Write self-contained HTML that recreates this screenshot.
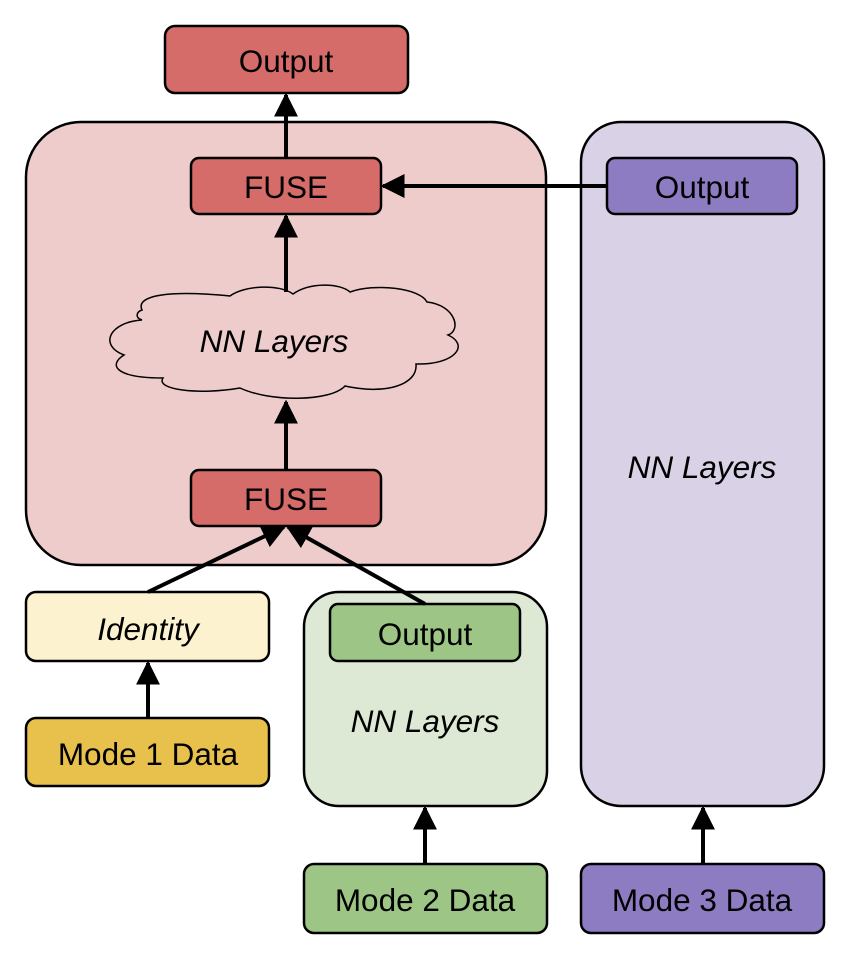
<!DOCTYPE html>
<html><head><style>
html,body{margin:0;padding:0;background:#fff;}
svg{display:block;}
text{font-family:"Liberation Sans",Arial,sans-serif;font-size:31.5px;fill:#000;}
.i{font-style:italic;}
</style></head><body>
<svg width="844" height="956" viewBox="0 0 844 956" xmlns="http://www.w3.org/2000/svg">
<defs>
<marker id="a" viewBox="0 0 10 10" refX="9" refY="5" markerWidth="6" markerHeight="6" markerUnits="strokeWidth" orient="auto">
<path d="M0,0 L10,5 L0,10 z" fill="#000"/>
</marker>
</defs>
<g stroke="#000" stroke-width="2.5">
<rect x="26" y="122" width="520" height="443" rx="55" fill="#EECCCB"/>
<rect x="581" y="122" width="243" height="684" rx="40" fill="#D9D2E6"/>
<rect x="304" y="592" width="243" height="214" rx="35" fill="#DDE8D5"/>
<rect x="165" y="26" width="243" height="67" rx="10" fill="#D56C69"/>
<rect x="191" y="158" width="190" height="56" rx="8" fill="#D56C69"/>
<rect x="191" y="470" width="190" height="56" rx="8" fill="#D56C69"/>
<rect x="607" y="158" width="190" height="56" rx="8" fill="#8E7CC3"/>
<rect x="330" y="604" width="190" height="57" rx="8" fill="#9CC586"/>
<rect x="26" y="592" width="243" height="69" rx="10" fill="#FCF2D0"/>
<rect x="26" y="718" width="243" height="68" rx="10" fill="#E8C14D"/>
<rect x="304" y="864" width="243" height="69" rx="10" fill="#9CC586"/>
<rect x="581" y="864" width="243" height="69" rx="10" fill="#8E7CC3"/>
<path d="M142,310 C135,295 170,290 230,296 C245,285 280,284 293,294 C310,282 340,283 350,292 C375,283 420,288 427,302 C455,305 462,330 448,335 C470,345 455,365 416,364 C418,385 385,395 345,386 C330,402 270,402 240,388 C200,395 155,390 163,378 C115,378 108,365 124,355 C98,345 110,322 142,320 C135,318 136,312 142,310 Z" fill="#EECCCB" stroke-width="1.5"/>
</g>
<g stroke="#000" stroke-width="4" fill="none" marker-end="url(#a)">
<line x1="286" y1="158" x2="286" y2="95"/>
<line x1="286" y1="292" x2="286" y2="216"/>
<line x1="286" y1="470" x2="286" y2="402"/>
<line x1="607" y1="186" x2="383" y2="186"/>
<line x1="148" y1="592" x2="284" y2="527"/>
<line x1="425" y1="604" x2="288" y2="527"/>
<line x1="148" y1="718" x2="148" y2="663"/>
<line x1="425" y1="864" x2="425" y2="808"/>
<line x1="703" y1="864" x2="703" y2="808"/>
</g>
<g text-anchor="middle">
<text x="286" y="72">Output</text>
<text x="286" y="198">FUSE</text>
<text x="286" y="510">FUSE</text>
<text x="702" y="198">Output</text>
<text x="425" y="645">Output</text>
<text class="i" x="274" y="352">NN Layers</text>
<text class="i" x="702" y="478">NN Layers</text>
<text class="i" x="425" y="732">NN Layers</text>
<text class="i" x="148" y="640">Identity</text>
<text x="148" y="765">Mode 1 Data</text>
<text x="425" y="911">Mode 2 Data</text>
<text x="702" y="911">Mode 3 Data</text>
</g>
</svg>
</body></html>
